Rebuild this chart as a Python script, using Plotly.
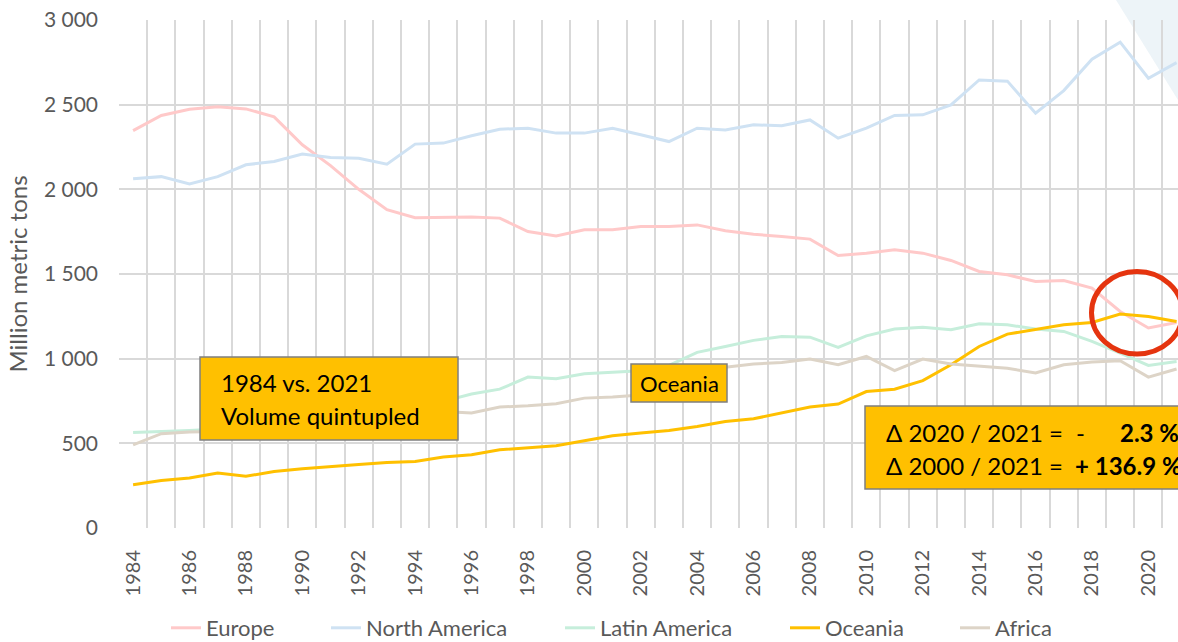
import plotly.graph_objects as go

years = list(range(1984, 2022))
tick_years = list(range(1984, 2021, 2))

europe = [2347, 2436, 2473, 2487, 2475, 2428, 2263, 2140, 2000, 1880,
          1832, 1836, 1836, 1830, 1751, 1725, 1761, 1761, 1780, 1780,
          1790, 1755, 1735, 1721, 1706, 1609, 1623, 1643, 1623, 1580,
          1515, 1495, 1456, 1462, 1417, 1279, 1181, 1214]
north_america = [2062, 2075, 2032, 2075, 2145, 2164, 2208, 2188, 2184, 2149,
                 2267, 2273, 2316, 2355, 2361, 2332, 2332, 2361, 2322, 2282,
                 2361, 2351, 2381, 2375, 2410, 2302, 2361, 2436, 2440, 2499,
                 2646, 2639, 2450, 2583, 2768, 2869, 2656, 2748]
latin_america = [564, 568, 576, 585, 600, 615, 640, 660, 690, 710,
                 735, 748, 791, 820, 891, 881, 911, 918, 928, 960,
                 1037, 1072, 1108, 1131, 1127, 1066, 1135, 1175, 1186, 1171,
                 1206, 1200, 1175, 1161, 1102, 1033, 960, 983]
oceania = [256, 281, 295, 325, 305, 334, 350, 364, 375, 387,
           393, 419, 433, 462, 476, 486, 515, 545, 561, 576,
           600, 629, 645, 679, 714, 732, 806, 820, 870, 964,
           1072, 1145, 1171, 1200, 1214, 1263, 1249, 1220]
africa = [491, 557, 567, 570, 580, 600, 615, 630, 645, 660,
          675, 688, 679, 714, 722, 734, 767, 773, 785, 850,
          930, 950, 968, 978, 998, 964, 1013, 930, 998, 968,
          954, 944, 915, 964, 980, 988, 891, 939]

series_names = ["Europe", "North America", "Latin America", "Oceania", "Africa"]
series_values = [europe, north_america, latin_america, oceania, africa]
series_colors = ["#ffc9c9", "#cfe2f3", "#c6eedb", "#ffc000", "#ddd4c7"]
legend_text_x = [206, 366, 600, 825, 995]

W, H = 1178, 642
ML, MR, MT, MB = 119, 0, 20, 114
PW, PH = W - ML - MR, H - MT - MB
FONT = "Lato"
GRID = "#d9d9d9"
TXT = "#595959"


def px(x):
    return (x - ML) / PW


def py(y):
    return (H - MB - y) / PH


fig = go.Figure()
for i, (name, vals, col) in enumerate(zip(series_names, series_values, series_colors)):
    fig.add_trace(go.Scatter(
        x=years, y=vals, name=name, mode="lines",
        line=dict(color=col, width=3),
        legend="legend" if i == 0 else f"legend{i+1}",
        showlegend=True,
        hoverinfo="x+y+name",
    ))

legends = {}
for i, tx in enumerate(legend_text_x):
    key = "legend" if i == 0 else f"legend{i+1}"
    legends[key] = dict(
        x=px(tx - 40), xanchor="left", y=py(628), yanchor="middle",
        orientation="h", bgcolor="rgba(0,0,0,0)", borderwidth=0,
        font=dict(family=FONT, size=22, color=TXT),
    )

shapes = [
    dict(type="path", xref="paper", yref="paper", layer="below",
         path=f"M{px(1116)},{py(0)} L{px(1260)},{py(0)} L{px(1260)},{py(232)} Z",
         fillcolor="#edf4f8", line=dict(width=0)),
    dict(type="rect", xref="paper", yref="paper", layer="above",
         x0=px(200), x1=px(458), y0=py(440), y1=py(357),
         fillcolor="#ffc000", line=dict(color="#7f7f7f", width=1.5)),
    dict(type="rect", xref="paper", yref="paper", layer="above",
         x0=px(631), x1=px(727), y0=py(402), y1=py(364),
         fillcolor="#ffc000", line=dict(color="#7f7f7f", width=1.5)),
    dict(type="rect", xref="paper", yref="paper", layer="above",
         x0=px(865), x1=px(1210), y0=py(489), y1=py(406),
         fillcolor="#ffc000", line=dict(color="#7f7f7f", width=1.5)),
    dict(type="circle", xref="paper", yref="paper", layer="above",
         x0=px(1091.5), x1=px(1182.5), y0=py(354), y1=py(271.5),
         line=dict(color="#e5340f", width=5)),
]


def ann(text, x, y, size, anchor="left", bold=False):
    return dict(text=f"<b>{text}</b>" if bold else text, xref="paper", yref="paper",
                x=px(x), y=py(y), xanchor=anchor, yanchor="middle", showarrow=False,
                font=dict(family=FONT, size=size, color="#000000"))


annotations = [
    ann("1984 vs. 2021", 219, 382, 24),
    ann("Volume quintupled", 219, 415, 24),
    ann("Oceania", 679, 383, 22, anchor="center"),
    ann("Δ 2020 / 2021 =", 884, 432, 24),
    ann("-", 1074, 432, 24),
    ann("2.3 %", 1118, 432, 24, bold=True),
    ann("Δ 2000 / 2021 =", 884, 465, 24),
    ann("+ 136.9 %", 1073, 465, 24, bold=True),
]

fig.update_layout(
    width=W, height=H,
    margin=dict(l=ML, r=MR, t=MT, b=MB, autoexpand=False),
    paper_bgcolor="white", plot_bgcolor="rgba(0,0,0,0)",
    separators=", ",
    font=dict(family=FONT, size=20, color=TXT),
    shapes=shapes, annotations=annotations,
    **legends,
)
fig.update_xaxes(
    range=[1983.5, 2021.05], tickmode="array", tickvals=tick_years,
    ticktext=[str(y) for y in tick_years], tickangle=-90,
    tickfont=dict(family=FONT, size=20, color=TXT),
    showgrid=False, zeroline=False, showline=False, ticks="",
    ticklabelstandoff=17,
    minor=dict(tickmode="linear", tick0=1983.5, dtick=1, showgrid=True,
               gridcolor=GRID, gridwidth=1.5, ticks=""),
)
fig.update_yaxes(
    range=[0, 3000], tickmode="linear", tick0=0, dtick=500, tickformat=",d",
    tickfont=dict(family=FONT, size=21, color=TXT),
    showgrid=True, gridcolor=GRID, gridwidth=1.5, zeroline=False, showline=False,
    ticks="", ticklabelstandoff=20,
    title=dict(text="Million metric tons", font=dict(family=FONT, size=24, color=TXT),
               standoff=9),
)

fig.write_html("out.html", config={"displayModeBar": False},
               post_script="document.body.style.margin='0';document.body.style.overflow='hidden';")
